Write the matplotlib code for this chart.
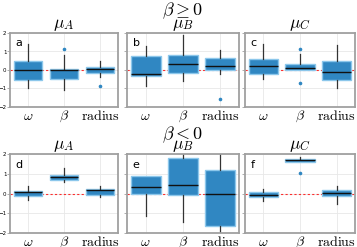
import matplotlib
matplotlib.use("Agg")
import matplotlib.pyplot as plt

plt.rcParams['mathtext.fontset'] = 'cm'

categories = [r'$\omega$', r'$\beta$', r'$\mathrm{radius}$']
panel_letters = ['a', 'b', 'c', 'd', 'e', 'f']
panel_titles = [r'$\mu_A$', r'$\mu_B$', r'$\mu_C$'] * 2
row_titles = [r'$\beta \geq 0$', r'$\beta < 0$']

# per panel: lists over categories (omega, beta, radius)
q1 = [
    [-0.56, -0.48, -0.14],
    [-0.32, -0.14, -0.02],
    [-0.22, 0.00, -0.56],
    [-0.11, 0.70, -0.09],
    [0.00, -0.06, -1.63],
    [-0.18, 1.58, -0.13],
]
med = [
    [0.00, 0.00, 0.05],
    [-0.19, 0.32, 0.22],
    [0.22, 0.12, -0.10],
    [0.06, 0.84, 0.19],
    [0.33, 0.43, 0.00],
    [-0.08, 1.68, 0.04],
]
q3 = [
    [0.51, 0.08, 0.15],
    [0.73, 0.79, 0.63],
    [0.60, 0.34, 0.48],
    [0.11, 0.94, 0.23],
    [0.90, 1.78, 1.21],
    [0.09, 1.76, 0.19],
]
whislo = [
    [-0.99, -1.08, -0.39],
    [-0.84, -0.58, -0.20],
    [-0.51, 0.00, -0.97],
    [-0.31, 0.58, -0.19],
    [-1.16, -1.46, -2.3],
    [-0.38, 1.58, -0.53],
]
whishi = [
    [1.42, 0.80, 0.51],
    [1.28, 1.91, 1.08],
    [1.42, 0.85, 1.33],
    [0.36, 1.27, 0.36],
    [0.90, 2.3, 2.3],
    [0.23, 1.87, 0.36],
]
fliers = [
    [[], [1.16], [-0.89]],
    [[], [], [-1.59]],
    [[], [1.15, -0.72], []],
    [[], [], []],
    [[], [], []],
    [[], [1.05], []],
]

W, H = 357, 247
fig = plt.figure(figsize=(W / 100, H / 100), dpi=100)

col_x = [(10, 118), (127, 239), (245, 355)]
row_y = [(33, 107), (154, 233)]

face = (0.19, 0.53, 0.76)
edge = (0.55, 0.78, 0.92)
spine_col = '#a0a0a0'

for i in range(6):
    r, c = divmod(i, 3)
    x0, x1 = col_x[c]
    y0, y1 = row_y[r]
    ax = fig.add_axes([x0 / W, 1 - y1 / H, (x1 - x0) / W, (y1 - y0) / H])
    stats = []
    for k in range(3):
        stats.append(dict(q1=q1[i][k], med=med[i][k], q3=q3[i][k],
                          whislo=whislo[i][k], whishi=whishi[i][k],
                          fliers=fliers[i][k], label=categories[k]))
    ax.axhline(0, color='red', ls=(0, (2, 2)), lw=0.8, zorder=1, alpha=0.8)
    ax.bxp(stats, positions=[0, 1, 2], widths=0.8, patch_artist=True,
           showcaps=False,
           boxprops=dict(facecolor=face, edgecolor=edge, linewidth=1.0),
           medianprops=dict(color='#111111', linewidth=1.0),
           whiskerprops=dict(color='#333333', linewidth=0.9),
           flierprops=dict(marker='o', markersize=1.6, markerfacecolor=face,
                           markeredgecolor=face, linestyle='none'))
    ax.set_xlim(-0.5, 2.5)
    ax.set_ylim(-2, 2)
    ax.set_yticks([-2, -1, 0, 1, 2])
    ax.grid(True, color='#e8e8e8', linewidth=0.6, zorder=0)
    ax.set_axisbelow(True)
    for s in ax.spines.values():
        s.set_color(spine_col)
        s.set_linewidth(1.3)
    ax.tick_params(axis='x', length=0, pad=1.5, labelsize=10)
    ax.set_xticks([0, 1, 2])
    ax.set_xticklabels(categories)
    if c == 0:
        ax.tick_params(axis='y', labelsize=4, length=2, width=0.6,
                       pad=0.5, color=spine_col)
    else:
        ax.tick_params(axis='y', labelleft=False, length=2, width=0.6,
                       color=spine_col)
    ax.set_title(panel_titles[i], fontsize=12.5, pad=2)
    ax.text(0.05, 0.93, panel_letters[i], transform=ax.transAxes,
            fontsize=8, va='top', ha='left')

fig.text(0.51, 1 - 11 / H, row_titles[0], fontsize=13, ha='center', va='center')
fig.text(0.51, 1 - 135 / H, row_titles[1], fontsize=13, ha='center', va='center')

fig.savefig('out.png', dpi=100)
